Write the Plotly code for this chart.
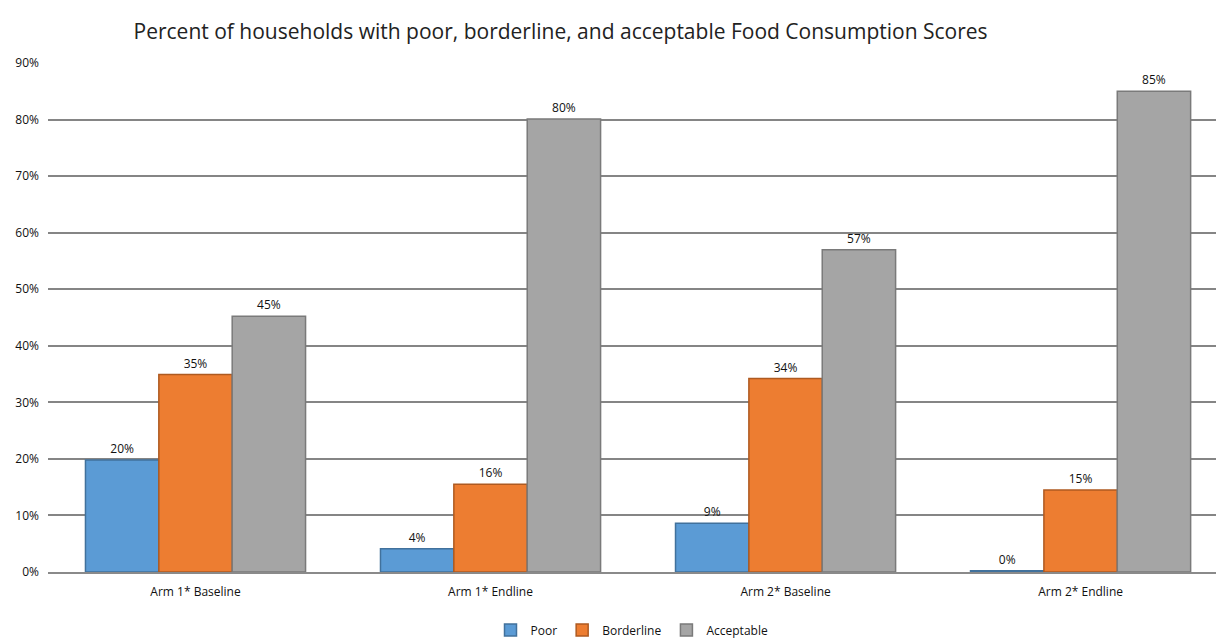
import plotly.graph_objects as go

categories = ["Arm 1* Baseline", "Arm 1* Endline", "Arm 2* Baseline", "Arm 2* Endline"]
poor = [19.8, 4.1, 8.6, 0.2]
borderline = [34.9, 15.5, 34.2, 14.5]
acceptable = [45.2, 80.1, 57.0, 85.0]
poor_labels = ["20%", "4%", "9%", "0%"]
borderline_labels = ["35%", "16%", "34%", "15%"]
acceptable_labels = ["45%", "80%", "57%", "85%"]
y_ticks = [0, 10, 20, 30, 40, 50, 60, 70, 80, 90]
y_tick_labels = [f"{v}%" for v in y_ticks]

series = [
    ("Poor", poor, poor_labels, "#5B9BD5", "#41719C"),
    ("Borderline", borderline, borderline_labels, "#ED7D31", "#AE5A21"),
    ("Acceptable", acceptable, acceptable_labels, "#A5A5A5", "#7A7A7A"),
]

fig = go.Figure()
for name, vals, labels, color, line in series:
    fig.add_trace(go.Bar(
        name=name, x=categories, y=vals, text=labels,
        textposition="outside", cliponaxis=False,
        textfont=dict(size=12, color="#111111", family="Open Sans"),
        marker=dict(color=color, line=dict(color=line, width=1.5)),
    ))

fig.update_layout(
    width=1216, height=639,
    margin=dict(l=48, r=0, t=63, b=67, autoexpand=False),
    paper_bgcolor="white", plot_bgcolor="white",
    barmode="group", bargap=0.254, bargroupgap=0,
    title=dict(text="Percent of households with poor, borderline, and acceptable Food Consumption Scores",
               x=0.461, xanchor="center", y=0.95, yanchor="middle",
               font=dict(size=21, color="#222222", family="Open Sans")),
    font=dict(family="Open Sans", color="#111111", size=12),
    legend=dict(orientation="h", x=0.5, xanchor="center", y=-0.114, yanchor="middle",
                font=dict(size=12), itemwidth=30, traceorder="normal"),
    showlegend=True,
)
fig.update_xaxes(range=[-0.5, 3.459], showgrid=False, showline=True, linecolor="#8a8a8a",
                 linewidth=2, ticks="", tickfont=dict(size=12), ticklabelstandoff=8,
                 automargin=False)
fig.update_yaxes(range=[0, 90], tickvals=y_ticks, ticktext=y_tick_labels,
                 showgrid=True, gridcolor="#858585", gridwidth=2, zeroline=False,
                 ticks="", ticklabelstandoff=8, tickfont=dict(size=12), automargin=False)

fig.write_html("out.html")
